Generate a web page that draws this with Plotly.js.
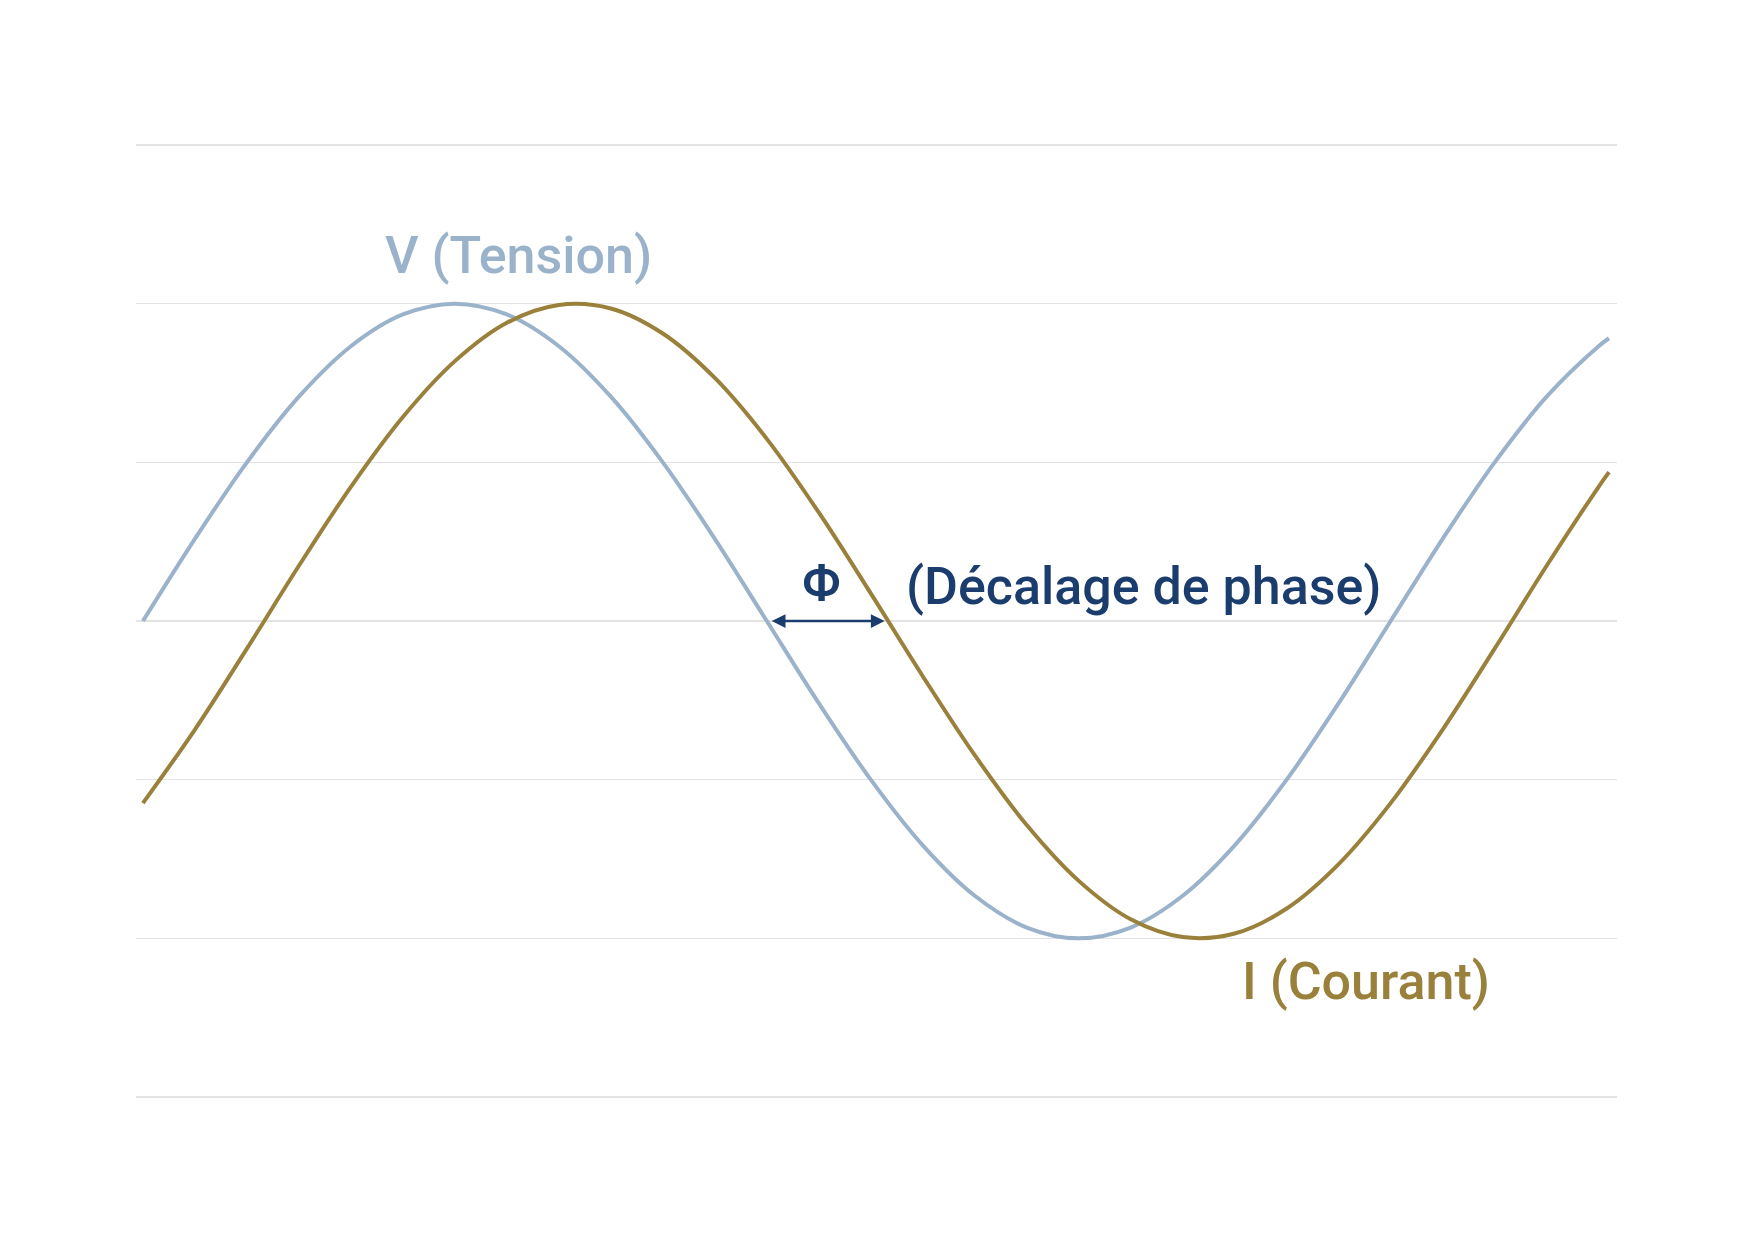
<!DOCTYPE html>
<html>
<head>
<meta charset="utf-8">
<script src="https://cdn.plot.ly/plotly-3.0.1.min.js"></script>
<style>html,body{margin:0;padding:0;background:#fff;}#chart{width:1754px;height:1241px;}</style>
</head>
<body>
<div id="chart"></div>
<script>
// Phase angle (degrees) along the horizontal axis
const angleDeg = [0, 15, 30, 45, 60, 75, 90, 105, 120, 135, 150, 165, 180, 195, 210, 225, 240, 255, 270, 285, 300, 315, 330, 345, 360, 375, 390, 405, 420, 423];
// V (Tension) – normalised amplitude
const tension = [0, 0.259, 0.5, 0.707, 0.866, 0.966, 1, 0.966, 0.866, 0.707, 0.5, 0.259, 0, -0.259, -0.5, -0.707, -0.866, -0.966, -1, -0.966, -0.866, -0.707, -0.5, -0.259, 0, 0.259, 0.5, 0.707, 0.866, 0.891];
// I (Courant) – normalised amplitude, lagging
const courant = [-0.574, -0.342, -0.087, 0.174, 0.423, 0.643, 0.819, 0.940, 0.996, 0.985, 0.906, 0.766, 0.574, 0.342, 0.087, -0.174, -0.423, -0.643, -0.819, -0.940, -0.996, -0.985, -0.906, -0.766, -0.574, -0.342, -0.087, 0.174, 0.423, 0.469];

const labelV = 'V (Tension)';
const labelI = 'I (Courant)';
const labelPhi = 'Φ';
const labelShift = '(Décalage de phase)';
const phaseStart = 181, phaseEnd = 214;

const cV = '#9bb3ca', cI = '#9a813b', cNavy = '#1b3d6e';
const fontFam = 'Roboto, "Noto Sans", sans-serif';

const traces = [
  {x: angleDeg, y: tension, mode: 'lines', line: {color: cV, width: 4, shape: 'spline', smoothing: 1}, hoverinfo: 'skip', name: labelV},
  {x: angleDeg, y: courant, mode: 'lines', line: {color: cI, width: 4, shape: 'spline', smoothing: 1}, hoverinfo: 'skip', name: labelI}
];

const layout = {
  width: 1754, height: 1241,
  margin: {l: 136, r: 137, t: 139, b: 138},
  paper_bgcolor: '#ffffff', plot_bgcolor: '#ffffff',
  showlegend: false,
  xaxis: {range: [-2, 425.3], showgrid: false, zeroline: false, showticklabels: false, ticks: '', showline: false},
  yaxis: {range: [-1.519, 1.519], tick0: 0, dtick: 0.5, showgrid: true, gridcolor: '#e3e3e3', gridwidth: 1.5, zeroline: false, showticklabels: false, ticks: '', showline: false},
  annotations: [
    {x: 108.5, y: 1.153, xref: 'x', yref: 'y', text: labelV, showarrow: false, font: {family: fontFam, size: 52, color: cV, weight: 500}},
    {x: 195.9, y: 0.117, xref: 'x', yref: 'y', text: labelPhi, showarrow: false, font: {family: fontFam, size: 52, color: cNavy, weight: 500}},
    {x: 288.8, y: 0.110, xref: 'x', yref: 'y', text: labelShift, showarrow: false, font: {family: fontFam, size: 52, color: cNavy, weight: 500}},
    {x: 352.9, y: -1.135, xref: 'x', yref: 'y', text: labelI, showarrow: false, font: {family: fontFam, size: 52, color: cI, weight: 500}},
    {x: phaseEnd, y: 0, ax: phaseStart, ay: 0, xref: 'x', yref: 'y', axref: 'x', ayref: 'y', text: '', showarrow: true, arrowhead: 2, arrowside: 'end+start', arrowsize: 1.1, arrowwidth: 2.5, arrowcolor: cNavy}
  ]
};

Plotly.newPlot('chart', traces, layout, {staticPlot: true, displayModeBar: false});
</script>
</body>
</html>
